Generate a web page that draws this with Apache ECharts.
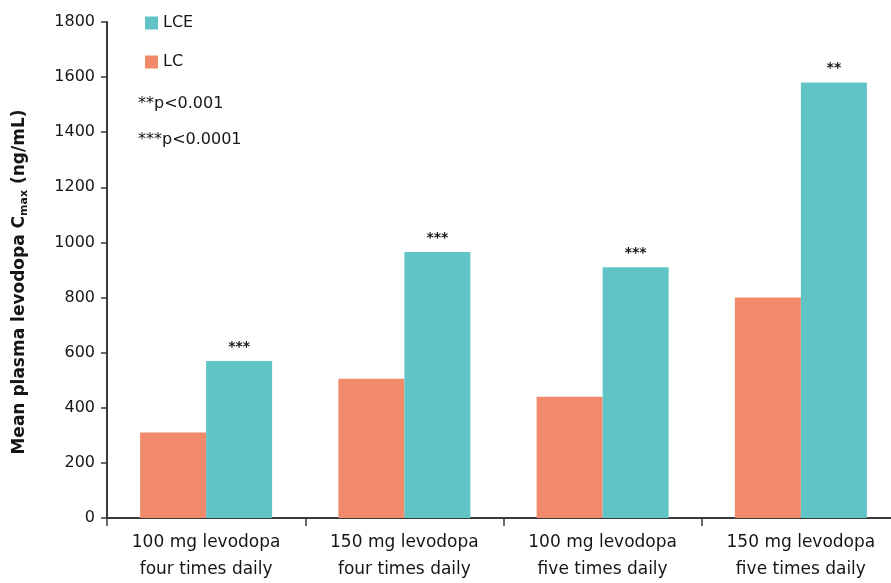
<!DOCTYPE html>
<html>
<head>
<meta charset="utf-8">
<script src="https://cdn.jsdelivr.net/npm/echarts@6/dist/echarts.min.js"></script>
<style>
  html, body { margin: 0; padding: 0; background: #fff; overflow: hidden; }
  /* the plot runs a little past the right edge of the page */
  #chart { width: 900px; height: 583px; }
</style>
</head>
<body>
<div id="chart"></div>
<script>
// Dosing regimens on the x axis
const categories = [
  '100 mg levodopa\nfour times daily',
  '150 mg levodopa\nfour times daily',
  '100 mg levodopa\nfive times daily',
  '150 mg levodopa\nfive times daily'
];
// Mean plasma levodopa Cmax (ng/mL)
const lcValues = [310, 505, 440, 800];
const lceValues = [570, 965, 910, 1580];
// Significance markers above the LCE bars
const lceStars = ['***', '***', '***', '**'];
const pNotes = ['**p<0.001', '***p<0.0001'];
const yTicks = { min: 0, max: 1800, step: 200 };

const FONT = '"DejaVu Sans", sans-serif';
const AXIS_COLOR = '#3a3a3a';
const TEXT_COLOR = '#161616';
const ORANGE = '#F08A6B';
const TEAL = '#60C4C6';

const chart = echarts.init(document.getElementById('chart'));

chart.setOption({
  animation: false,
  backgroundColor: '#ffffff',
  grid: { left: 107, right: 0, top: 22, bottom: 62 },
  legend: {
    data: ['LCE', 'LC'],
    orient: 'vertical',
    left: 140,
    top: 10,
    icon: 'rect',
    itemWidth: 13,
    itemHeight: 13,
    itemGap: 23,
    textStyle: { fontFamily: FONT, fontSize: 16, color: TEXT_COLOR }
  },
  graphic: pNotes.map((t, i) => ({
    type: 'text',
    left: 138,
    top: 96 + i * 36,
    style: { text: t, font: '16px ' + FONT, fill: TEXT_COLOR }
  })),
  xAxis: {
    type: 'category',
    data: categories,
    axisLine: { lineStyle: { color: AXIS_COLOR, width: 2 } },
    axisTick: { show: true, alignWithLabel: false, length: 8, lineStyle: { color: AXIS_COLOR, width: 1.5 } },
    axisLabel: {
      fontFamily: FONT, fontSize: 17, color: TEXT_COLOR,
      lineHeight: 27, margin: 11, interval: 0
    }
  },
  yAxis: {
    type: 'value',
    min: yTicks.min,
    max: yTicks.max,
    interval: yTicks.step,
    name: '{n|Mean plasma levodopa C}{s|max}{n| (ng/mL)}',
    nameLocation: 'middle',
    nameGap: 77,
    nameRotate: 90,
    nameTextStyle: {
      padding: [0, 24, 0, 0],
      rich: {
        n: { fontFamily: FONT, fontSize: 17, fontWeight: 'bold', color: TEXT_COLOR },
        s: { fontFamily: FONT, fontSize: 11, fontWeight: 'bold', color: TEXT_COLOR, verticalAlign: 'bottom', padding: [9, 0, 0, 0] }
      }
    },
    axisLine: { show: true, lineStyle: { color: AXIS_COLOR, width: 2 } },
    axisTick: { show: true, length: 6, lineStyle: { color: AXIS_COLOR, width: 1.5 } },
    axisLabel: {
      fontFamily: FONT, fontSize: 16, color: TEXT_COLOR, margin: 12,
      formatter: v => String(v)
    },
    splitLine: { show: false }
  },
  series: [
    {
      name: 'LC',
      type: 'bar',
      data: lcValues,
      barWidth: 66,
      barGap: '0%',
      itemStyle: { color: ORANGE }
    },
    {
      name: 'LCE',
      type: 'bar',
      data: lceValues,
      barWidth: 66,
      barGap: '0%',
      itemStyle: { color: TEAL },
      label: {
        show: true,
        position: 'top',
        distance: 7,
        formatter: p => lceStars[p.dataIndex],
        fontFamily: FONT,
        fontSize: 14,
        fontWeight: 'bold',
        color: TEXT_COLOR
      }
    }
  ]
});
</script>
</body>
</html>
